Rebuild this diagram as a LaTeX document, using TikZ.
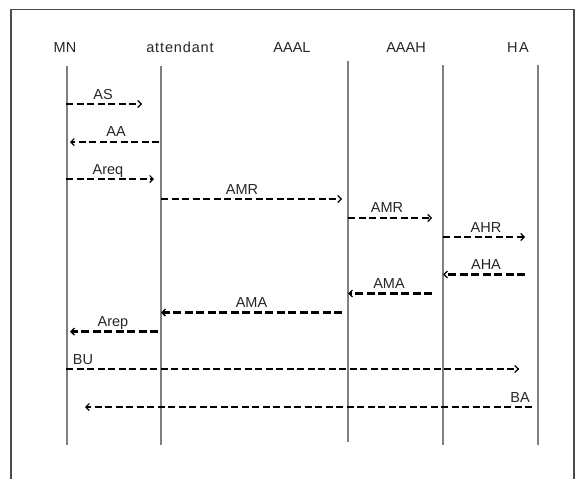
\documentclass[tikz,border=0pt]{standalone}
\usepackage{fontspec}
\setmainfont{Liberation Sans}
\newfontfamily\widefont[LetterSpace=6]{Liberation Sans}
\usetikzlibrary{arrows.meta}

\tikzset{
  frameline/.style={draw=black!70, line width=1.1pt},
  lifeline/.style={draw=black!50, line width=1.4pt},
  actor/.style={font=\fontsize{14.5}{16}\selectfont, text=black!85, inner sep=0pt, anchor=base},
  msglabel/.style={font=\fontsize{14.5}{16}\selectfont, text=black!85, inner sep=0pt, anchor=base},
  msg/.style={draw=black, line width=1.8pt, dash pattern=on 7pt off 3.5pt,
    -{Straight Barb[length=3.5pt,width=7pt,line width=1.1pt]}},
  msgbold/.style={msg, line width=2.9pt, dash pattern=on 8pt off 3.5pt,
    -{Straight Barb[length=3.5pt,width=7pt,line width=1.4pt]}},
}

\begin{document}
\begin{tikzpicture}[x=1pt,y=-1pt]
\useasboundingbox (0,0) rectangle (576,479);

% outer frame, open at the bottom
\draw[frameline] (11,479) -- (11,9.5) -- (574,9.5) -- (574,479);

% participants
\node[actor] (mn)  at (65,52)  {MN};
\node[actor] (att) at (180,52) {\widefont attendant};
\node[actor] (aal) at (292,52) {AAAL};
\node[actor] (aah) at (406,52) {AAAH};
\node[actor] (ha)  at (518,52) {H\kern1.5pt A};

% lifelines
\coordinate (mnT)  at (67,65.7);  \coordinate (mnB)  at (67,445);
\coordinate (attT) at (161,65.7); \coordinate (attB) at (161,445);
\coordinate (aalT) at (348,60.7); \coordinate (aalB) at (348,441.5);
\coordinate (aahT) at (443,65);   \coordinate (aahB) at (443,445);
\coordinate (haT)  at (538,65);   \coordinate (haB)  at (538,445);
\draw[lifeline] (mnT) -- (mnB);
\draw[lifeline] (attT) -- (attB);
\draw[lifeline] (aalT) -- (aalB);
\draw[lifeline] (aahT) -- (aahB);
\draw[lifeline] (haT) -- (haB);

% message end points
\coordinate (as1) at (66,104);  \coordinate (as2) at (142,104);
\coordinate (aa1) at (159,142); \coordinate (aa2) at (70,142);
\coordinate (rq1) at (66,179);  \coordinate (rq2) at (154,179);
\coordinate (mr1) at (161,199); \coordinate (mr2) at (342,199);
\coordinate (mr3) at (348,218); \coordinate (mr4) at (432,218);
\coordinate (hr1) at (443,237); \coordinate (hr2) at (525,237);
\coordinate (ha1) at (525,274.5); \coordinate (ha2) at (443,274.5);
\coordinate (ma1) at (432,293.5); \coordinate (ma2) at (348,293.5);
\coordinate (ma3) at (342,312.5); \coordinate (ma4) at (161,312.5);
\coordinate (rp1) at (158,331.5); \coordinate (rp2) at (70,331.5);
\coordinate (bu1) at (66,369);  \coordinate (bu2) at (519,369);
\coordinate (ba1) at (532,407); \coordinate (ba2) at (85,407);

% messages
\draw[msg] (as1) -- (as2);
\draw[msg] (aa1) -- (aa2);
\draw[msg] (rq1) -- (rq2);
\draw[msg] (mr1) -- (mr2);
\draw[msg] (mr3) -- (mr4);
\draw[msg] (hr1) -- (hr2);
\draw[msgbold] (ha1) -- (ha2);
\draw[msgbold] (ma1) -- (ma2);
\draw[msgbold] (ma3) -- (ma4);
\draw[msgbold] (rp1) -- (rp2);
\draw[msg] (bu1) -- (bu2);
\draw[msg] (ba1) -- (ba2);

% message labels
\node[msglabel] (lAS)   at (103,99)    {AS};
\node[msglabel] (lAA)   at (116,136.7) {AA};
\node[msglabel] (lRq)   at (108,174.5) {Areq};
\node[msglabel] (lMR1)  at (242,194)   {AMR};
\node[msglabel] (lMR2)  at (387,212.5) {AMR};
\node[msglabel] (lHR)   at (486,232.3) {AHR};
\node[msglabel] (lHA)   at (486,269)   {AHA};
\node[msglabel] (lMA2)  at (389,288)   {AMA};
\node[msglabel] (lMA1)  at (251.5,307.3) {AMA};
\node[msglabel] (lRp)   at (113,326.3) {Arep};
\node[msglabel, anchor=base west] (lBU) at (72.7,364) {BU};
\node[msglabel, anchor=base east] (lBA) at (530,402.7) {BA};
\end{tikzpicture}
\end{document}
